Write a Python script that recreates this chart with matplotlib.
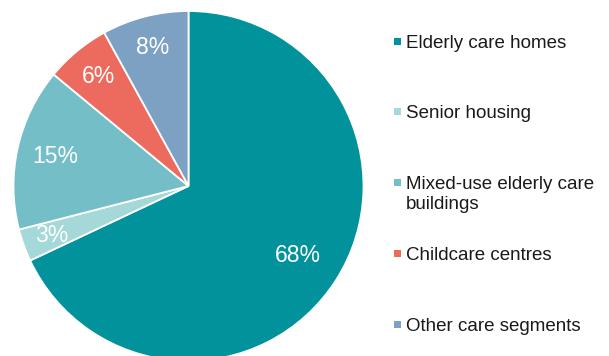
import matplotlib
matplotlib.use("Agg")
import numpy as np
from matplotlib import pyplot as plt
from matplotlib.patches import Rectangle

plt.rcParams['font.family'] = ['Liberation Sans', 'DejaVu Sans']

labels = ['Elderly care homes', 'Senior housing', 'Mixed-use elderly care\nbuildings',
          'Childcare centres', 'Other care segments']
shares = [68, 3, 15, 6, 8]
colors = ['#02929b', '#a5d8d8', '#74bec8', '#ec6b5e', '#7da1c2']

W, H = 609, 356
fig = plt.figure(figsize=(W / 100, H / 100), dpi=100)

# pie: centre ~ (188.5, 186) px from top-left, radius ~175 px
r = 175
cx, cy = 188.5, H - 186
ax = fig.add_axes([(cx - r) / W, (cy - r) / H, 2 * r / W, 2 * r / H])
wedges, _, autotexts = ax.pie(shares, colors=colors, startangle=90, counterclock=False,
                              radius=1, autopct='%d%%', pctdistance=0.8,
                              wedgeprops=dict(edgecolor='white', linewidth=1.3),
                              textprops=dict(color='white', fontsize=16.5))
# label distances from centre differ a little per slice in the original
label_dist = [0.74, 0.83, 0.78, 0.81, 0.82]
for w, t, d in zip(wedges, autotexts, label_dist):
    ang = np.deg2rad((w.theta1 + w.theta2) / 2)
    t.set_position((d * np.cos(ang), d * np.sin(ang)))
ax.set_xlim(-1, 1)
ax.set_ylim(-1, 1)
ax.set_aspect('equal')
ax.axis('off')

# legend drawn by hand so the marker sits on the first text line
for i, (lab, col) in enumerate(zip(labels, colors)):
    base = 46.7 + 70.8 * i
    mid = base - 5.7
    fig.patches.append(Rectangle((394 / W, (H - mid - 3.5) / H), 7 / W, 7 / H,
                                 transform=fig.transFigure, facecolor=col,
                                 edgecolor='none'))
    fig.text(406 / W, (H - base + 12) / H, lab, fontsize=13.5, color='#1a1a1a',
             va='top', ha='left', linespacing=1.17)

fig.savefig('out.png', dpi=100)
